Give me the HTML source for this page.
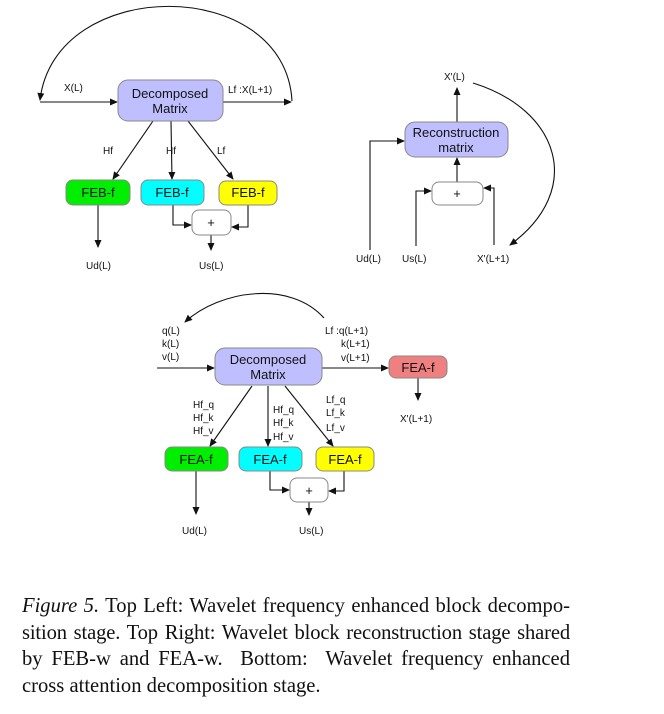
<!DOCTYPE html>
<html><head><meta charset="utf-8"><style>
html,body{margin:0;padding:0;background:#fff;width:664px;height:714px;overflow:hidden}
svg{position:absolute;left:0;top:0}
text{font-family:"Liberation Sans",sans-serif;font-size:10px;fill:#111}
.b{font-size:13px}
.cap{position:absolute;left:22px;width:548px;font-family:"Liberation Serif",serif;font-size:20.6px;color:#111}
.cap div{height:26.5px;line-height:26.5px;text-align:justify;text-align-last:justify;white-space:nowrap}
.cap div.l{text-align-last:left}
</style></head><body>
<svg width="664" height="714" viewBox="0 0 664 714">
<defs><marker id="a" markerWidth="8" markerHeight="8" refX="7" refY="4" orient="auto" markerUnits="userSpaceOnUse"><path d="M0,0.5 L8,4 L0,7.5z" fill="#111"/></marker></defs>
<g stroke="#111" stroke-width="1.1" fill="none" marker-end="url(#a)">
<path d="M40,102 H117"/>
<path d="M223,102 H291"/>
<path d="M292,101 C285,-25 55,-25 40,100"/>
<path d="M153,121 L113,179"/>
<path d="M171,121 L172,179"/>
<path d="M188,121 L233,179"/>
<path d="M98,205 V247"/>
<path d="M173,205 V225 H191"/>
<path d="M248,205 V227 H232"/>
<path d="M211,235 V250"/>
<path d="M457,122 V88"/>
<path d="M457,182 V158"/>
<path d="M370,250 V141 H404"/>
<path d="M416,246 V191 H431"/>
<path d="M494,245 V188 H484"/>
<path d="M473,83 C560,110 585,190 510,245"/>
<path d="M157,368 H214"/>
<path d="M322,368 H388"/>
<path d="M418,378 V400"/>
<path d="M324,318 C290,280 220,290 185,322"/>
<path d="M252,386 L210,446"/>
<path d="M268,386 L268,446"/>
<path d="M285,386 L333,446"/>
<path d="M196,471 V514"/>
<path d="M270,471 V490 H289"/>
<path d="M344,471 V491 H329"/>
<path d="M309,502 V515"/>
</g>
<g stroke="#888" stroke-width="1">
<rect x="118" y="80" width="105" height="41" rx="10" fill="#bfbfff"/>
<rect x="66" y="180" width="64" height="25" rx="7" fill="#00ee00"/>
<rect x="141" y="180" width="63" height="25" rx="7" fill="#00ffff"/>
<rect x="219" y="181" width="58" height="24" rx="7" fill="#ffff00"/>
<rect x="192" y="210" width="39" height="25" rx="7" fill="#fff"/>
<rect x="405" y="122" width="103" height="35" rx="10" fill="#bfbfff"/>
<rect x="432" y="182" width="51" height="23" rx="7" fill="#fff"/>
<rect x="215" y="348" width="107" height="37" rx="10" fill="#bfbfff"/>
<rect x="389" y="356" width="58" height="22" rx="7" fill="#f08080"/>
<rect x="165" y="447" width="63" height="24" rx="7" fill="#00ee00"/>
<rect x="239" y="447" width="63" height="24" rx="7" fill="#00ffff"/>
<rect x="316" y="447" width="58" height="24" rx="7" fill="#ffff00"/>
<rect x="290" y="478" width="38" height="24" rx="7" fill="#fff"/>
</g>
<g text-anchor="middle">
<text class="b" x="170" y="98">Decomposed</text><text class="b" x="170" y="113">Matrix</text>
<text class="b" x="98" y="197">FEB-f</text><text class="b" x="172" y="197">FEB-f</text><text class="b" x="248" y="197">FEB-f</text>
<text class="b" x="211" y="227">+</text>
<text class="b" x="456" y="137">Reconstruction</text><text class="b" x="456" y="152">matrix</text>
<text class="b" x="457" y="198">+</text>
<text class="b" x="268" y="364">Decomposed</text><text class="b" x="268" y="379">Matrix</text>
<text class="b" x="418" y="372">FEA-f</text>
<text class="b" x="196" y="464">FEA-f</text><text class="b" x="270" y="464">FEA-f</text><text class="b" x="345" y="464">FEA-f</text>
<text class="b" x="309" y="495">+</text>
</g>
<text x="64" y="91">X(L)</text>
<text x="228" y="93">Lf :X(L+1)</text>
<text x="103" y="154">Hf</text><text x="166" y="154">Hf</text><text x="217" y="154">Lf</text>
<text x="86" y="269">Ud(L)</text><text x="199" y="269">Us(L)</text>
<text x="444" y="80">X'(L)</text>
<text x="356" y="262">Ud(L)</text><text x="402" y="262">Us(L)</text><text x="477" y="262">X'(L+1)</text>
<text x="162" y="334">q(L)</text><text x="162" y="347">k(L)</text><text x="162" y="360">v(L)</text>
<text x="325" y="334">Lf :q(L+1)</text><text x="341" y="347">k(L+1)</text><text x="341" y="361">v(L+1)</text>
<text x="400" y="422">X'(L+1)</text>
<text x="193" y="408">Hf_q</text><text x="193" y="421">Hf_k</text><text x="193" y="434">Hf_v</text>
<text x="273" y="413">Hf_q</text><text x="273" y="426">Hf_k</text><text x="273" y="440">Hf_v</text>
<text x="326" y="403">Lf_q</text><text x="326" y="416">Lf_k</text><text x="326" y="431">Lf_v</text>
<text x="182" y="534">Ud(L)</text><text x="299" y="534">Us(L)</text>
</svg>
<div class="cap" style="top:593px">
<div><i>Figure 5.</i> Top Left: Wavelet frequency enhanced block decompo-</div>
<div style="letter-spacing:-0.15px">sition stage. Top Right: Wavelet block reconstruction stage shared</div>
<div>by FEB-w and FEA-w. &nbsp;Bottom: &nbsp;Wavelet frequency enhanced</div>
<div class="l">cross attention decomposition stage.</div>
</div>
</body></html>
